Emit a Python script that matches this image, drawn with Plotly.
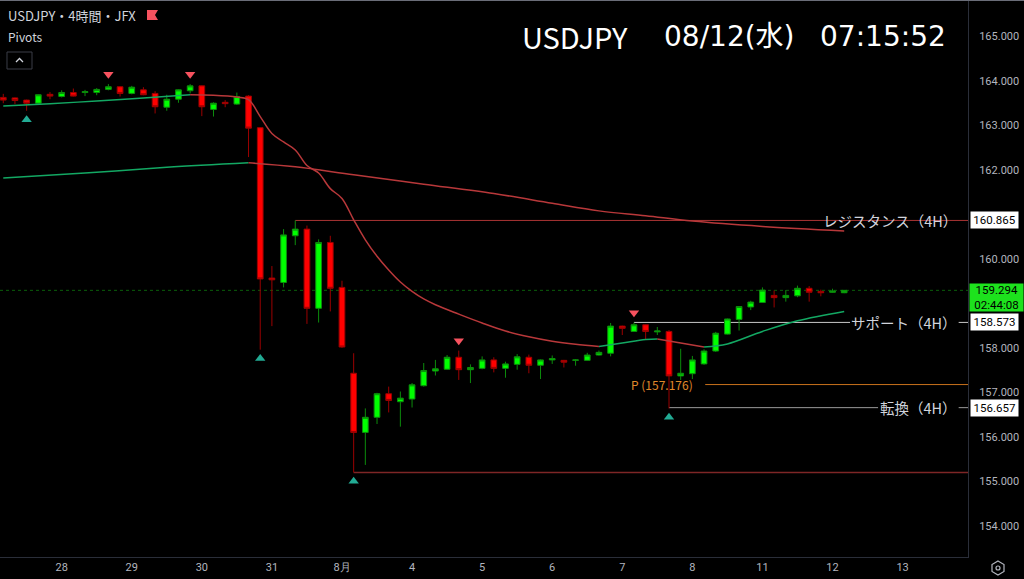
import plotly.graph_objects as go

# 4H candles (bar index 0..72)
opens = [163.63, 163.62, 163.57, 163.50, 163.70, 163.65, 163.74, 163.74, 163.74, 163.81,
         163.87, 163.72, 163.80, 163.72, 163.41, 163.59, 163.78, 163.89, 163.36, 163.52,
         163.48, 163.66, 162.95, 159.57, 159.47, 160.52, 160.67, 158.89, 160.37, 159.36,
         157.43, 156.10, 156.44, 156.97, 156.79, 156.85, 157.15, 157.48, 157.52, 157.79,
         157.51, 157.54, 157.73, 157.54, 157.63, 157.79, 157.61, 157.73, 157.72, 157.72,
         157.72, 157.84, 157.88, 158.49, 158.37, 158.52, 158.36, 158.37, 157.37, 157.42,
         157.64, 157.93, 158.31, 158.64, 158.92, 159.02, 159.18, 159.13, 159.17, 159.34,
         159.27, 159.25, 159.24]
highs = [163.71, 163.63, 163.58, 163.70, 163.75, 163.79, 163.83, 163.80, 163.84, 163.93,
         163.88, 163.89, 163.86, 163.77, 163.69, 163.81, 163.93, 163.90, 163.52, 163.57,
         163.74, 163.68, 162.96, 159.84, 160.67, 160.865, 160.75, 160.44, 160.52, 159.51,
         157.88, 156.64, 156.99, 157.13, 157.02, 157.21, 157.66, 157.73, 157.84, 157.94,
         157.63, 157.81, 157.79, 157.69, 157.86, 157.85, 157.74, 157.83, 157.73, 157.75,
         157.89, 157.94, 158.56, 158.50, 158.57, 158.53, 158.47, 158.40, 157.98, 157.82,
         157.97, 158.36, 158.66, 158.94, 159.06, 159.36, 159.29, 159.30, 159.40, 159.39,
         159.31, 159.33, 159.30]
lows = [163.50, 163.48, 163.33, 163.49, 163.59, 163.63, 163.65, 163.66, 163.68, 163.79,
        163.65, 163.70, 163.68, 163.27, 163.33, 163.51, 163.72, 163.21, 163.20, 163.41,
        163.46, 162.29, 157.96, 158.49, 159.36, 160.31, 158.54, 158.57, 158.82, 158.00,
        155.20, 155.37, 156.29, 156.55, 156.23, 156.66, 157.13, 157.38, 157.51, 157.28,
        157.21, 157.52, 157.45, 157.33, 157.51, 157.43, 157.30, 157.64, 157.56, 157.60,
        157.71, 157.83, 157.81, 158.29, 158.36, 158.20, 158.29, 156.64, 157.28, 157.30,
        157.62, 157.91, 158.30, 158.39, 158.85, 159.01, 158.91, 159.04, 159.14, 159.04,
        159.16, 159.24, 159.23]
closes = [163.57, 163.56, 163.50, 163.69, 163.66, 163.74, 163.66, 163.76, 163.81, 163.87,
          163.72, 163.86, 163.69, 163.42, 163.59, 163.80, 163.89, 163.42, 163.50, 163.49,
          163.65, 162.94, 159.55, 159.53, 160.54, 160.67, 158.89, 160.37, 159.34, 158.02,
          156.10, 156.44, 156.97, 156.82, 156.87, 157.17, 157.49, 157.53, 157.79, 157.51,
          157.56, 157.73, 157.54, 157.64, 157.80, 157.61, 157.73, 157.76, 157.68, 157.73,
          157.84, 157.90, 158.49, 158.44, 158.52, 158.37, 158.38, 157.37, 157.43, 157.73,
          157.93, 158.33, 158.65, 158.93, 159.03, 159.30, 159.13, 159.18, 159.34, 159.25,
          159.24, 159.28, 159.294]
bars = list(range(len(opens)))

# moving averages (bar index, price)
ma_fast_idx = [0, 4, 8, 12, 16, 18, 20, 21, 22, 23, 24, 25, 26, 27, 28, 29, 30, 31, 32, 33,
               34, 35, 36, 37, 39, 41, 43, 45, 47, 49, 51, 53, 55, 56, 58, 60, 62, 65, 68, 72]
ma_fast_val = [163.44, 163.49, 163.55, 163.62, 163.69, 163.68, 163.64, 163.58, 163.20, 162.82,
               162.63, 162.45, 162.10, 161.93, 161.58, 161.36, 160.88, 160.43, 160.06, 159.75,
               159.48, 159.27, 159.10, 158.97, 158.76, 158.56, 158.38, 158.25, 158.15, 158.08,
               158.03, 158.11, 158.19, 158.20, 158.11, 158.02, 158.09, 158.37, 158.61, 158.82]
ma_fast_rising = [(0, 16), (51, 56), (60, 72)]
ma_fast_falling = [(16, 51), (56, 60)]

ma_slow_idx = [0, 7, 14, 21, 25, 30, 36, 42, 47, 51, 55, 59, 65, 72]
ma_slow_val = [161.82, 161.93, 162.06, 162.16, 162.07, 161.89, 161.68, 161.47, 161.25, 161.08,
               160.97, 160.85, 160.73, 160.63]
ma_slow_rising = [(0, 21)]
ma_slow_falling = [(21, 72)]

# pivots
pivot_high_idx = [9, 16, 39, 54]
pivot_low_idx = [2, 22, 30, 57]

# horizontal levels
last_price = 159.294
bar_timer = "02:44:08"
resistance = 160.865
support = 158.573
reversal = 156.657
pivot_p = 157.176
swing_low = 155.20

tick_idx = [5, 11, 17, 23, 29, 35, 41, 47, 53, 59, 65, 71, 77]
tick_text = ["28", "29", "30", "31", "8月", "4", "5", "6", "7", "8", "11", "12", "13"]
price_ticks = [154, 155, 156, 157, 158, 160, 162, 163, 164, 165]

GREEN = "#00ff00"
RED = "#ff0000"
MA_GREEN = "#13a863"
MA_RED = "#b8383a"
AXIS_TXT = "#b2b5be"
TXT = "#d1d4dc"
JP = "Noto Sans CJK JP"
NUM = "Roboto"
WIDE = "DejaVu Sans, Noto Sans CJK JP"

W_PLOT, H_PLOT = 968, 557
X_MIN, X_MAX = -0.28, 82.6


def pxx(v):
    return v / W_PLOT


def pxy(v):
    return 1 - v / H_PLOT


fig = go.Figure()

fig.add_trace(go.Candlestick(
    x=bars, open=opens, high=highs, low=lows, close=closes,
    increasing=dict(line=dict(color="#0c8c0c", width=1), fillcolor=GREEN),
    decreasing=dict(line=dict(color="#9c0000", width=1), fillcolor=RED),
    whiskerwidth=0, hoverinfo="skip",
))


def add_ma(idx, val, spans, color):
    for a, b in spans:
        xs = [i for i in idx if a <= i <= b]
        ys = [v for i, v in zip(idx, val) if a <= i <= b]
        fig.add_trace(go.Scatter(x=xs, y=ys, mode="lines", hoverinfo="skip",
                                 line=dict(color=color, width=1.5, shape="spline")))


add_ma(ma_slow_idx, ma_slow_val, ma_slow_rising, MA_GREEN)
add_ma(ma_slow_idx, ma_slow_val, ma_slow_falling, MA_RED)
add_ma(ma_fast_idx, ma_fast_val, ma_fast_rising, MA_GREEN)
add_ma(ma_fast_idx, ma_fast_val, ma_fast_falling, MA_RED)

fig.add_trace(go.Scatter(
    x=pivot_high_idx, y=[highs[i] + 0.22 for i in pivot_high_idx], mode="markers",
    marker=dict(symbol="triangle-down", size=9, color="#f7525f"), hoverinfo="skip"))
fig.add_trace(go.Scatter(
    x=pivot_low_idx, y=[lows[i] - 0.2 for i in pivot_low_idx], mode="markers",
    marker=dict(symbol="triangle-up", size=9, color="#22ab94"), hoverinfo="skip"))

shapes = []


def hline(x0, x1, y, color, width=1, dash="solid"):
    shapes.append(dict(type="line", xref="x", yref="y", x0=x0, x1=x1, y0=y, y1=y,
                       line=dict(color=color, width=width, dash=dash), layer="below"))


hline(X_MIN, X_MAX, last_price, "#0a5e0a", 1, "dot")
hline(25, X_MAX, resistance, "#a83434")
hline(54, 72.5, support, "#c8c8c8")
hline(81.8, X_MAX, support, "#c8c8c8")
hline(57, 74.9, reversal, "#9a9a9a")
hline(81.8, X_MAX, reversal, "#9a9a9a")
hline(60.1, X_MAX, pivot_p, "#c7711c")
hline(30, X_MAX, swing_low, "#7e2626", 1.5)


def ppath(points, close=True):
    s = "M " + " L ".join(f"{pxx(a):.5f},{pxy(b):.5f}" for a, b in points)
    return s + (" Z" if close else "")


# top border
shapes.append(dict(type="line", xref="paper", yref="paper", x0=0, x1=pxx(1024),
                   y0=pxy(0.5), y1=pxy(0.5), line=dict(color="#6a6d78", width=1)))
# flag icon
shapes.append(dict(type="path", xref="paper", yref="paper",
                   path=ppath([(147, 10), (158, 10), (155, 15), (158, 20), (147, 20)]),
                   fillcolor="#f7525f", line=dict(width=0)))
# collapse button
shapes.append(dict(type="path", xref="paper", yref="paper",
                   path=ppath([(7, 52), (32, 52), (32, 69), (7, 69)]),
                   fillcolor="rgba(0,0,0,0)", line=dict(color="#3a3d46", width=1)))
shapes.append(dict(type="path", xref="paper", yref="paper",
                   path=ppath([(16, 62), (19.5, 58.5), (23, 62)], close=False),
                   line=dict(color=TXT, width=1.3)))
# gear icon
shapes.append(dict(type="path", xref="paper", yref="paper",
                   path=ppath([(998, 561), (1004, 564.5), (1004, 571.5), (998, 575),
                               (992, 571.5), (992, 564.5)]),
                   line=dict(color=AXIS_TXT, width=1.2)))
shapes.append(dict(type="circle", xref="paper", yref="paper",
                   x0=pxx(996), x1=pxx(1000), y0=pxy(570), y1=pxy(566),
                   line=dict(color=AXIS_TXT, width=1.2)))

ann = []


def label(x, y, text, font, xanchor="left", xref="paper", yref="paper", **kw):
    ann.append(dict(x=x, y=y, xref=xref, yref=yref, xanchor=xanchor,
                    yanchor=kw.pop("yanchor", "middle"), text=text, showarrow=False,
                    font=font, **kw))


label(pxx(6), pxy(16), "USDJPY・4時間・JFX", dict(family=JP, size=13, color=TXT))
label(pxx(6), pxy(37), "Pivots", dict(family=JP, size=12, color=TXT))
label(pxx(575), pxy(36), "USDJPY", dict(family=JP, size=29, color="#ffffff"), "center")
label(pxx(729), pxy(36), "08/12(水)", dict(family=WIDE, size=28, color="#ffffff"), "center")
label(pxx(883), pxy(36), "07:15:52", dict(family=WIDE, size=28, color="#ffffff"), "center")

for y, t in [(resistance, "レジスタンス（4H）"), (support, "サポート（4H）"), (reversal, "転換（4H）")]:
    label(pxx(959), y, t, dict(family=JP, size=14.5, color=TXT), "right", yref="y")

label(56.4, pivot_p, f"P ({pivot_p:.3f})", dict(family=JP, size=12, color="#e0892b"),
      "center", xref="x", yref="y")

for y in [resistance, support, reversal]:
    label(pxx(970), y, f"{y:.3f}", dict(family=NUM, size=11.5, color="#000000"), yref="y",
          bgcolor="#ffffff", width=45, height=14, borderpad=1)
label(pxx(969), last_price, f"{last_price:.3f}<br>{bar_timer}",
      dict(family=NUM, size=11.5, color="#000000"), yref="y", yanchor="top", yshift=7,
      bgcolor="#1de21d", width=51, height=25, borderpad=1)

fig.update_layout(
    width=1024, height=579,
    paper_bgcolor="#000000", plot_bgcolor="#000000",
    margin=dict(l=0, r=56, t=0, b=22),
    showlegend=False, hovermode=False,
    shapes=shapes, annotations=ann,
    xaxis=dict(range=[X_MIN, X_MAX], rangeslider=dict(visible=False), showgrid=False,
               zeroline=False, tickvals=tick_idx, ticktext=tick_text, ticks="",
               tickfont=dict(family=NUM, size=11, color=AXIS_TXT),
               showline=True, linecolor="#2a2e39", linewidth=1),
    yaxis=dict(range=[153.30, 165.82], side="right", showgrid=False, zeroline=False,
               tickvals=price_ticks, ticktext=[f"{v:.3f}" for v in price_ticks],
               ticks="", ticklabelstandoff=8,
               tickfont=dict(family=NUM, size=11, color=AXIS_TXT),
               showline=True, linecolor="#2a2e39", linewidth=1),
)

fig.write_html("out.html", config={"displayModeBar": False},
               post_script="document.body.style.margin='0';document.body.style.background='#000';")
